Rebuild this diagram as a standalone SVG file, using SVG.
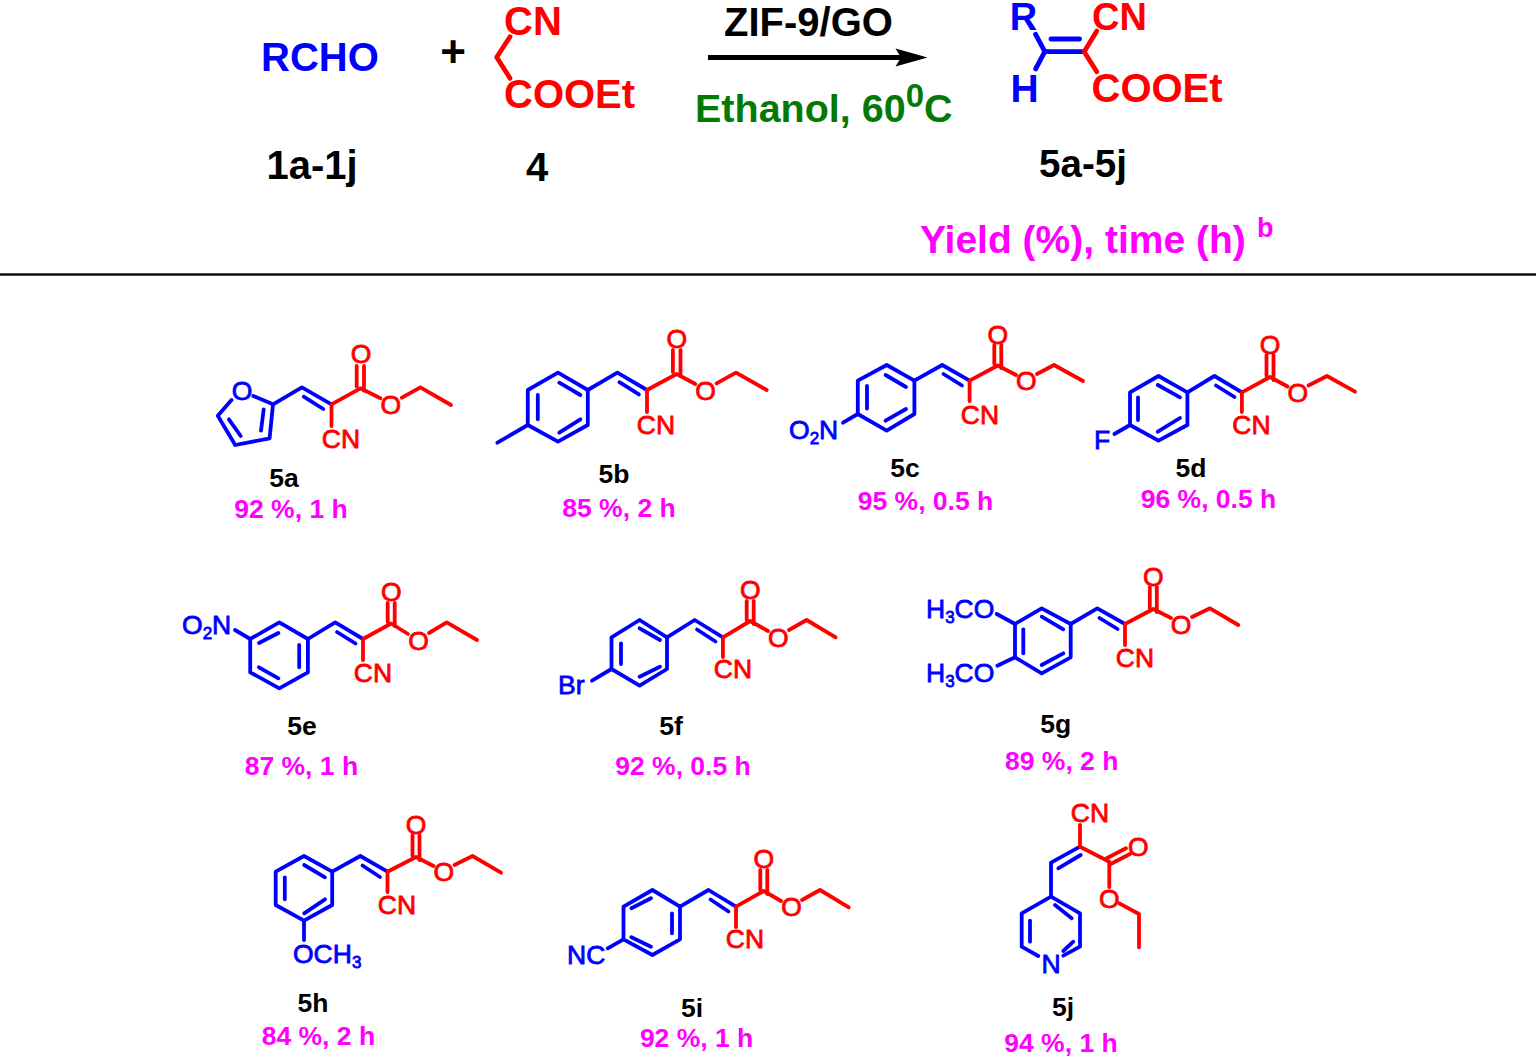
<svg xmlns="http://www.w3.org/2000/svg" width="1536" height="1058" viewBox="0 0 1536 1058">
<style>
text{font-family:"Liberation Sans",Arial,sans-serif}
.bl{fill:#0000ff}.rd{fill:#ff0000}.bk{fill:#000}.mg{fill:#ff00ff}.gn{fill:#047a04}
.big{font-size:40px;font-weight:700}
.lab{font-size:26.5px;font-weight:700;text-anchor:middle}
.at{font-size:26.5px;stroke-width:.8px}
.at.bl{stroke:#0000ff}.at.rd{stroke:#ff0000}
.m{text-anchor:middle}
.b,.r,.k{fill:none;stroke-linecap:round;stroke-linejoin:round;stroke-width:3.8px}
.b{stroke:#0000ff}.r{stroke:#ff0000}
.t{stroke-width:4.8px}
</style>
<rect width="1536" height="1058" fill="#fff"/>
<g id="connectors">
<line x1="0" y1="274.5" x2="1536" y2="274.5" stroke="#111" stroke-width="2.4"/>
<line x1="708" y1="57.5" x2="902" y2="57.5" stroke="#000" stroke-width="5"/>
<polygon points="927.5,57.5 895.5,48.5 901,57.5 895.5,66.5" fill="#000"/>
</g>
<g id="scheme-reactants">
<text class="big bl" x="261" y="71">RCHO</text>
<text class="bk m" x="453" y="67" style="font-size:44px;font-weight:700">+</text>
<text class="big bk m" x="312" y="179">1a-1j</text>
<text class="big bk m" x="537" y="181">4</text>
</g>
<g id="compound-4">
<polyline class="r t" points="510,36.7 496.7,57.3 510,78.3"/>
<text class="big rd" x="504" y="35">CN</text>
<text class="big rd" x="504" y="107.5">COOEt</text>
</g>
<g id="conditions">
<text class="big bk m" x="808.5" y="36">ZIF-9/GO</text>
<text class="big gn" x="695" y="122.3" style="font-size:39.5px">Ethanol, 60<tspan dy="-15.5" style="font-size:33px">0</tspan><tspan dy="15.5">C</tspan></text>
</g>
<g id="compound-5">
<polyline class="b t" points="1035.6,34.3 1044.8,51.7 1035.6,69"/>
<polyline class="b t" points="1044.8,51.7 1084.2,51.7"/>
<line class="b t" x1="1050.9" y1="39" x2="1079.6" y2="39"/>
<polyline class="r t" points="1096.8,31 1084.2,51.7 1096.8,71.7"/>
<text class="big bl m" x="1023.5" y="29.5" style="font-size:38px">R</text>
<text class="big bl m" x="1024.5" y="101.7" style="font-size:39px">H</text>
<text class="big rd" x="1092" y="29.5" style="font-size:38px">CN</text>
<text class="big rd" x="1091.5" y="101.7">COOEt</text>
<text class="big bk m" x="1083" y="176.5" style="font-size:38.5px">5a-5j</text>
<text class="big mg" x="920" y="253" style="font-size:39px">Yield (%), time (h)</text>
<text class="mg" x="1257" y="237" style="font-size:27px;font-weight:700">b</text>
</g>
<g id="compound-5a">
<polyline class="b" points="253.3,396 273,404.3 269.6,438.3 235.2,445 217.8,415.7 231.5,400"/>
<polyline class="b" points="273,404.3 301.9,387.3 331.5,404.3"/>
<line class="b" x1="263.7" y1="409.3" x2="261" y2="430.7"/><line class="b" x1="228.9" y1="419.3" x2="240.7" y2="436"/>
<line class="b" x1="303.7" y1="396.7" x2="323.3" y2="409"/>
<polyline class="r" points="331.5,426 331.5,404.3 360.4,388.3 380.4,398.3"/>
<polyline class="r" points="401.9,397.7 420.4,387.3 451,405"/>
<line class="r" x1="356.7" y1="366" x2="356.7" y2="386.5"/><line class="r" x1="364" y1="366" x2="364" y2="390.5"/>
<text class="at bl m" x="242" y="400">O</text>
<text class="at rd m" x="361" y="362.5">O</text>
<text class="at rd m" x="390.7" y="413.5">O</text>
<text class="at rd m" x="341" y="447.5">CN</text>
<text class="lab bk" x="284" y="487">5a</text>
<text class="lab mg" x="291" y="518">92 %, 1 h</text>
</g>
<g id="compound-5b">
<polygon class="b" points="587.8,390 558,372.7 527.8,390 527.8,425 558,441.7 587.8,425"/>
<line class="b" x1="527.8" y1="425" x2="497.4" y2="442.7"/>
<polyline class="b" points="587.8,390 617.4,372.7 647,390"/>
<line class="b" x1="559.3" y1="382.7" x2="580.4" y2="395"/><line class="b" x1="537.8" y1="395" x2="537.8" y2="419.3"/><line class="b" x1="559.3" y1="432.7" x2="580.4" y2="419.3"/>
<line class="b" x1="619.4" y1="382.2" x2="638.9" y2="394.4"/>
<polyline class="r" points="647,412 647,390 676.7,374 695.3,384"/>
<polyline class="r" points="716.6,383.4 736,372.7 766.7,390"/>
<line class="r" x1="672.9" y1="350" x2="672.9" y2="372"/><line class="r" x1="680.5" y1="350" x2="680.5" y2="376"/>
<text class="at rd m" x="676.7" y="347.5">O</text>
<text class="at rd m" x="705.6" y="399.5">O</text>
<text class="at rd m" x="656" y="434">CN</text>
<text class="lab bk" x="614" y="482.7">5b</text>
<text class="lab mg" x="619" y="517">85 %, 2 h</text>
</g>
<g id="compound-5c">
<polygon class="b" points="914.4,380.7 886.7,365 857.8,380.7 857.8,414 886.7,430.7 914.4,414"/>
<line class="b" x1="857.8" y1="414" x2="843" y2="422.7"/>
<polyline class="b" points="914.4,380.7 942.2,365 969.6,380.7"/>
<line class="b" x1="885.6" y1="375" x2="906" y2="387"/><line class="b" x1="867" y1="386" x2="867" y2="408.5"/><line class="b" x1="885.6" y1="420.7" x2="906" y2="409"/>
<line class="b" x1="943.5" y1="374" x2="962" y2="385.5"/>
<polyline class="r" points="969.6,401 969.6,380.7 997.8,365.5 1016,375"/>
<polyline class="r" points="1037,374 1054,365 1083,381"/>
<line class="r" x1="994.3" y1="345" x2="994.3" y2="364"/><line class="r" x1="1001.3" y1="345" x2="1001.3" y2="368"/>
<text class="at bl" x="789" y="439">O<tspan dy="5" style="font-size:17px">2</tspan><tspan dy="-5">N</tspan></text>
<text class="at rd m" x="997.8" y="343.5">O</text>
<text class="at rd m" x="1026.3" y="390.2">O</text>
<text class="at rd m" x="980" y="424">CN</text>
<text class="lab bk" x="905" y="476.7">5c</text>
<text class="lab mg" x="925.5" y="510">95 %, 0.5 h</text>
</g>
<g id="compound-5d">
<polygon class="b" points="1187.4,392.3 1158.5,376 1130,392.3 1130,425 1158.5,440.7 1187.4,425"/>
<line class="b" x1="1130" y1="425" x2="1114.4" y2="434"/>
<polyline class="b" points="1187.4,392.3 1214.4,376 1241.9,392.3"/>
<line class="b" x1="1157.8" y1="385" x2="1180" y2="397.3"/><line class="b" x1="1138" y1="397.3" x2="1138" y2="420"/><line class="b" x1="1157.8" y1="431.7" x2="1180" y2="418"/>
<line class="b" x1="1216" y1="385.5" x2="1234.5" y2="397"/>
<polyline class="r" points="1241.9,412 1241.9,392.3 1270,377 1287.5,386.5"/>
<polyline class="r" points="1308.5,385.5 1327,376 1355,391.7"/>
<line class="r" x1="1266.5" y1="355" x2="1266.5" y2="376"/><line class="r" x1="1273.5" y1="355" x2="1273.5" y2="380"/>
<text class="at bl m" x="1102" y="449.3">F</text>
<text class="at rd m" x="1270" y="353.8">O</text>
<text class="at rd m" x="1297.8" y="401.8">O</text>
<text class="at rd m" x="1251.5" y="434">CN</text>
<text class="lab bk" x="1191" y="476.5">5d</text>
<text class="lab mg" x="1208.5" y="508">96 %, 0.5 h</text>
</g>
<g id="compound-5e">
<polygon class="b" points="307.9,639 279.3,622.3 250.2,639 250.2,672.3 279.3,688.3 307.9,672.3"/>
<line class="b" x1="250.2" y1="639" x2="235" y2="630"/>
<polyline class="b" points="307.9,639 335.2,622.3 363,639"/>
<line class="b" x1="278.4" y1="633" x2="259" y2="643"/><line class="b" x1="299.2" y1="645" x2="299.2" y2="667.3"/><line class="b" x1="258.9" y1="667.3" x2="278.4" y2="678.3"/>
<line class="b" x1="337" y1="632" x2="355.5" y2="643.5"/>
<polyline class="r" points="363,660 363,639 391.2,623.5 408,634"/>
<polyline class="r" points="429,633 446.7,622.3 477,640"/>
<line class="r" x1="387.7" y1="603" x2="387.7" y2="622"/><line class="r" x1="394.7" y1="603" x2="394.7" y2="626"/>
<text class="at bl" x="182" y="633.5">O<tspan dy="5" style="font-size:17px">2</tspan><tspan dy="-5">N</tspan></text>
<text class="at rd m" x="391.2" y="601">O</text>
<text class="at rd m" x="418.5" y="649.5">O</text>
<text class="at rd m" x="373" y="681.7">CN</text>
<text class="lab bk" x="302" y="735">5e</text>
<text class="lab mg" x="301.4" y="775">87 %, 1 h</text>
</g>
<g id="compound-5f">
<polygon class="b" points="667,637.3 639.6,620 611.5,637.3 611.5,669 639.6,685.7 667,669"/>
<line class="b" x1="611.5" y1="669" x2="592" y2="680.7"/>
<polyline class="b" points="667,637.3 694.7,620 722.9,637.3"/>
<line class="b" x1="639.6" y1="628.3" x2="660" y2="640"/><line class="b" x1="621" y1="643.3" x2="621" y2="664"/><line class="b" x1="639.6" y1="676.7" x2="660" y2="666.7"/>
<line class="b" x1="697" y1="629.5" x2="715.5" y2="641.5"/>
<polyline class="r" points="722.9,657 722.9,637.3 750.2,621 768,631"/>
<polyline class="r" points="789,630 806.6,620 835.7,637.3"/>
<line class="r" x1="746.7" y1="601" x2="746.7" y2="620"/><line class="r" x1="753.7" y1="601" x2="753.7" y2="624"/>
<text class="at bl" x="558" y="694.3">Br</text>
<text class="at rd m" x="750.2" y="598.8">O</text>
<text class="at rd m" x="778.4" y="646.8">O</text>
<text class="at rd m" x="733" y="678.3">CN</text>
<text class="lab bk" x="671" y="735">5f</text>
<text class="lab mg" x="683" y="775">92 %, 0.5 h</text>
</g>
<g id="compound-5g">
<polygon class="b" points="1070.7,624 1041.7,608.3 1015,624 1015,657.3 1041.7,673.3 1070.7,657.3"/>
<line class="b" x1="996.7" y1="614" x2="1015" y2="624"/><line class="b" x1="997.3" y1="665.7" x2="1015" y2="657.3"/>
<polyline class="b" points="1070.7,624 1097.3,608.3 1125,624"/>
<line class="b" x1="1041.7" y1="616.7" x2="1063.3" y2="629.3"/><line class="b" x1="1023.3" y1="629.3" x2="1023.3" y2="653.3"/><line class="b" x1="1041.7" y1="665" x2="1063.3" y2="653.3"/>
<line class="b" x1="1099.5" y1="618" x2="1117.5" y2="629"/>
<polyline class="r" points="1125,645 1125,624 1153.3,609 1171,618"/>
<polyline class="r" points="1192,617 1210,608.3 1238.3,625"/>
<line class="r" x1="1149.8" y1="587" x2="1149.8" y2="608"/><line class="r" x1="1156.8" y1="587" x2="1156.8" y2="612"/>
<text class="at bl" x="926" y="618">H<tspan dy="5" style="font-size:17px">3</tspan><tspan dy="-5">CO</tspan></text>
<text class="at bl" x="926" y="682">H<tspan dy="5" style="font-size:17px">3</tspan><tspan dy="-5">CO</tspan></text>
<text class="at rd m" x="1153.3" y="585.5">O</text>
<text class="at rd m" x="1181" y="633.5">O</text>
<text class="at rd m" x="1135" y="666.7">CN</text>
<text class="lab bk" x="1055.7" y="732.7">5g</text>
<text class="lab mg" x="1061.7" y="770">89 %, 2 h</text>
</g>
<g id="compound-5h">
<polygon class="b" points="332.2,871.7 304,856 275.7,871.7 275.7,905 304,920.7 332.2,905"/>
<line class="b" x1="304" y1="920.7" x2="304" y2="940"/>
<polyline class="b" points="332.2,871.7 360.3,856 387.5,871.7"/>
<line class="b" x1="304.2" y1="865" x2="325" y2="877.3"/><line class="b" x1="284.8" y1="877.3" x2="284.8" y2="899.3"/><line class="b" x1="304.2" y1="913.3" x2="325" y2="899.3"/>
<line class="b" x1="362.5" y1="865.5" x2="380" y2="877"/>
<polyline class="r" points="387.5,892 387.5,871.7 416,857 433.5,866"/>
<polyline class="r" points="454.5,865 472.5,856 501,872.7"/>
<line class="r" x1="412.5" y1="835" x2="412.5" y2="856"/><line class="r" x1="419.5" y1="835" x2="419.5" y2="860"/>
<text class="at bl" x="293" y="963">OCH<tspan dy="5" style="font-size:17px">3</tspan></text>
<text class="at rd m" x="416" y="833.5">O</text>
<text class="at rd m" x="443.7" y="881.2">O</text>
<text class="at rd m" x="397" y="914">CN</text>
<text class="lab bk" x="313" y="1012">5h</text>
<text class="lab mg" x="318.4" y="1045">84 %, 2 h</text>
</g>
<g id="compound-5i">
<polygon class="b" points="680,906.7 652.4,890 623.5,906.7 623.5,939.3 652.4,955 680,939.3"/>
<line class="b" x1="623.5" y1="939.3" x2="607.7" y2="948.3"/>
<polyline class="b" points="680,906.7 708.5,890 736,906.7"/>
<line class="b" x1="651" y1="898.3" x2="631.4" y2="908.3"/><line class="b" x1="672" y1="913.3" x2="672" y2="933.3"/><line class="b" x1="631.4" y1="937.3" x2="651" y2="946.7"/>
<line class="b" x1="710.5" y1="899.5" x2="728.5" y2="911.5"/>
<polyline class="r" points="736,927 736,906.7 763.8,891 781,901"/>
<polyline class="r" points="802,900 820,890 848.8,907.3"/>
<line class="r" x1="760.3" y1="870" x2="760.3" y2="890"/><line class="r" x1="767.3" y1="870" x2="767.3" y2="894"/>
<text class="at bl" x="567" y="964">NC</text>
<text class="at rd m" x="763.8" y="867.8">O</text>
<text class="at rd m" x="791.5" y="916.2">O</text>
<text class="at rd m" x="745" y="948.3">CN</text>
<text class="lab bk" x="692" y="1016.7">5i</text>
<text class="lab mg" x="696.6" y="1047">92 %, 1 h</text>
</g>
<g id="compound-5j">
<polyline class="b" points="1038.3,956 1021.7,946.7 1021.7,913.3 1051,896.7 1080,913.3 1080,946.7 1063.3,955.7"/>
<polyline class="b" points="1051,896.7 1051,862.7 1080,846.7"/>
<line class="b" x1="1055" y1="905" x2="1071.7" y2="918.3"/><line class="b" x1="1030" y1="920.7" x2="1030" y2="941.7"/><line class="b" x1="1063.3" y1="951" x2="1073.3" y2="941.7"/>
<line class="b" x1="1058.3" y1="868.3" x2="1080.7" y2="855"/>
<polyline class="r" points="1080,825 1080,846.7 1109.3,861.7 1109.3,887"/>
<polyline class="r" points="1119.3,903.3 1139,914 1139,947.3"/>
<line class="r" x1="1106.7" y1="858.3" x2="1126" y2="848.3"/><line class="r" x1="1110.7" y1="864" x2="1130" y2="854"/>
<text class="at bl m" x="1051" y="972.5">N</text>
<text class="at rd m" x="1138.3" y="855.5">O</text>
<text class="at rd m" x="1109.3" y="907.8">O</text>
<text class="at rd m" x="1090" y="822">CN</text>
<text class="lab bk" x="1063" y="1015.5">5j</text>
<text class="lab mg" x="1061" y="1051.7">94 %, 1 h</text>
</g>
</svg>
